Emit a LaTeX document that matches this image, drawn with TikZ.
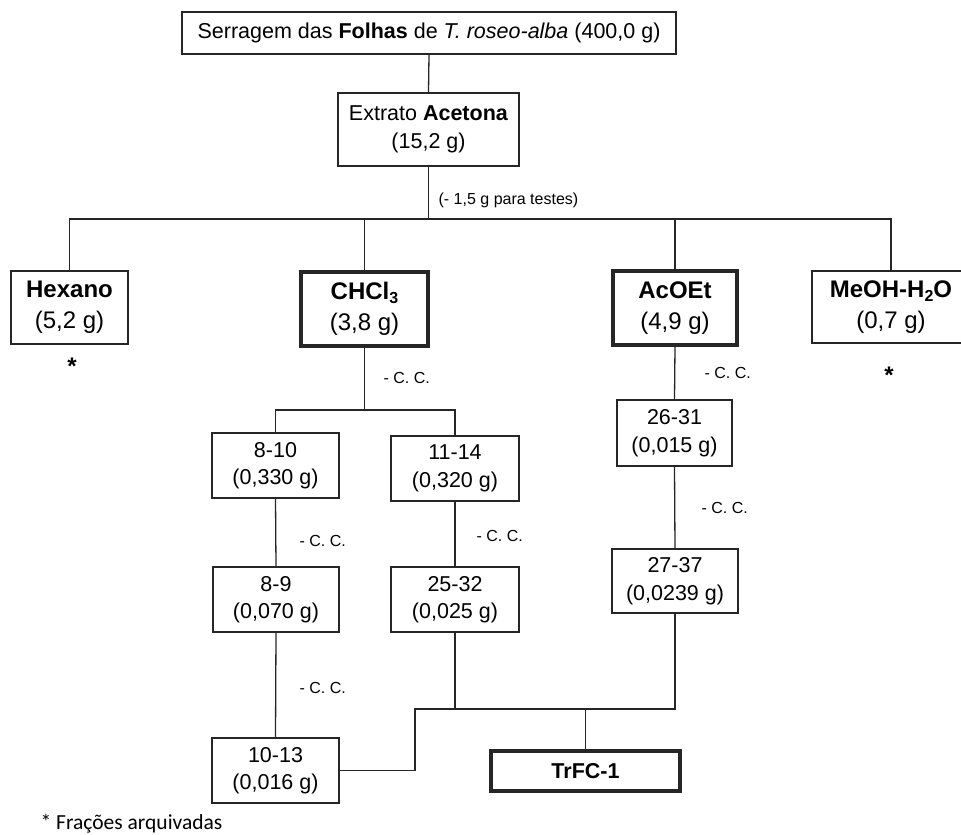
\documentclass[tikz,border=0pt]{standalone}
\usepackage{fontspec}
\setmainfont{Liberation Sans}
\newfontfamily\notefont{Carlito}
\begin{document}
\begin{tikzpicture}[x=1pt,y=-1pt,
  line width=1.3pt,
  every node/.style={text=black},
  fbox/.style={draw=black!85, line width=1.3pt, inner sep=0pt, align=center,
    font=\fontsize{21.5}{27.5}\selectfont},
  solvbox/.style={fbox, font=\fontsize{24}{31}\selectfont},
  keybox/.style={line width=3.5pt},
  note/.style={anchor=west, inner sep=0pt, font=\fontsize{16}{18}\selectfont},
  archived/.style={inner sep=0pt, font=\bfseries\fontsize{24}{24}\selectfont},
  link/.style={draw=black!85, line width=1.3pt}
]
\newcommand{\subnum}[1]{\raisebox{-0.3ex}{\fontsize{16}{16}\selectfont #1}}
\useasboundingbox (0,0) rectangle (961,835);

% starting material and crude extract
\node[fbox, minimum width=494, minimum height=42] (top) at (429,33)
  {Serragem das \textbf{Folhas} de \textit{T. roseo-alba} (400,0 g)};
\node[fbox, minimum width=181, minimum height=73] (ext) at (428.5,129.5)
  {Extrato \textbf{Acetona}\\(15,2 g)};

% partition fractions
\node[solvbox, minimum width=117, minimum height=73] (hex) at (69.5,307.5)
  {\textbf{Hexano}\\(5,2 g)};
\node[solvbox, keybox, minimum width=127, minimum height=74] (chcl) at (364.5,309)
  {\textbf{CHCl\subnum{3}}\\(3,8 g)};
\node[solvbox, keybox, minimum width=124, minimum height=74] (acoet) at (675,308)
  {\textbf{AcOEt}\\(4,9 g)};
\node[solvbox, minimum width=158, minimum height=72] (meoh) at (891,307)
  {\textbf{MeOH-H\subnum{2}O}\\(0,7 g)};

\node[archived] (starA) at (72,366) {*};
\node[archived] (starB) at (889,375) {*};

% column chromatography fractions
\node[fbox, minimum width=127, minimum height=65] (f810) at (275.5,465.5) {8-10\\(0,330 g)};
\node[fbox, minimum width=128, minimum height=65] (f1114) at (455,468.5) {11-14\\(0,320 g)};
\node[fbox, minimum width=126, minimum height=65] (f89) at (276,599.5) {8-9\\(0,070 g)};
\node[fbox, minimum width=128, minimum height=65] (f2532) at (455,599.5) {25-32\\(0,025 g)};
\node[fbox, minimum width=115, minimum height=66] (f2631) at (674.5,433) {26-31\\(0,015 g)};
\node[fbox, minimum width=126, minimum height=64] (f2737) at (675,581) {27-37\\(0,0239 g)};
\node[fbox, minimum width=127, minimum height=65] (f1013) at (275.5,770.5) {10-13\\(0,016 g)};
\node[fbox, keybox, minimum width=189, minimum height=40] (trfc) at (585.5,771)
  {\textbf{TrFC-1}};

% labels on the connectors
\node[note] (tests) at (438,200) {(- 1,5 g para testes)};
\node[note] (cc1) at (383,378) {- C. C.};
\node[note] (cc2) at (704,373) {- C. C.};
\node[note] (cc3) at (299,541) {- C. C.};
\node[note] (cc4) at (476,536) {- C. C.};
\node[note] (cc5) at (701,508) {- C. C.};
\node[note] (cc6) at (299,688) {- C. C.};

\node[anchor=base west, inner sep=0pt, font=\notefont\fontsize{21.5}{21.5}\selectfont] (foot)
  at (40,829) {* Frações arquivadas};

% connectors
\coordinate (rowbar) at (0,219);
\coordinate (chbar) at (0,410);
\coordinate (jn) at (0,709);
\coordinate (kink) at (415,0);

\draw[link] (top.south) -- (ext.north);
\draw[link] (ext.south) -- (ext.south |- rowbar);
\draw[link] (hex.north) -- (hex.north |- rowbar) -- (meoh.north |- rowbar) -- (meoh.north);
\draw[link] (chcl.north) -- (chcl.north |- rowbar);
\draw[link] (acoet.north) -- (acoet.north |- rowbar);

\draw[link] (chcl.south) -- (chcl.south |- chbar);
\draw[link] (f810.north) -- (f810.north |- chbar) -- (f1114.north |- chbar) -- (f1114.north);
\draw[link] (f810.south) -- (f89.north);
\draw[link] (f89.south) -- (f1013.north);
\draw[link] (f1114.south) -- (f2532.north);
\draw[link] (acoet.south) -- (f2631.north);
\draw[link] (f2631.south) -- (f2737.north);

\draw[link] (f1013.east) -- (kink |- f1013.east) -- (kink |- jn)
  -- (f2737.south |- jn) -- (f2737.south);
\draw[link] (f2532.south) -- (f2532.south |- jn);
\draw[link] (trfc.north) -- (trfc.north |- jn);
\end{tikzpicture}
\end{document}
